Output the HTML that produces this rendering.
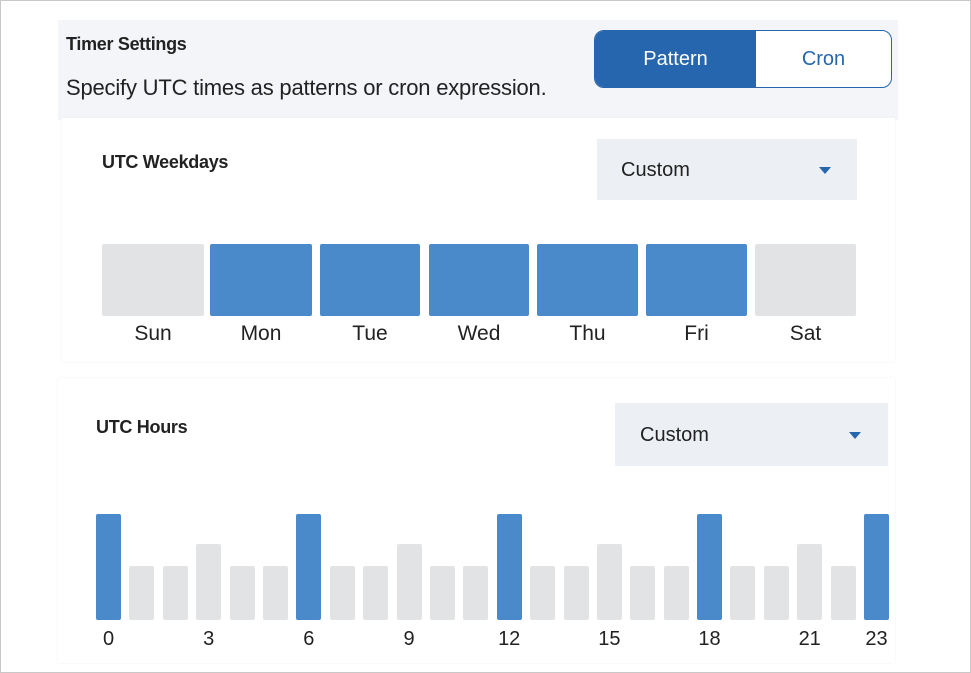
<!DOCTYPE html>
<html><head><style>
body{margin:0;width:971px;height:673px;background:#fff;font-family:"Liberation Sans",sans-serif;position:relative;overflow:hidden}
.frame{position:absolute;left:0;top:0;width:969px;height:671px;border:1px solid #c8c8c8}
.a{position:absolute}
.t{position:absolute;color:#222}
.bar{position:absolute;border-radius:2px;width:25px}
.wb{position:absolute;border-radius:2px;top:244px;height:72px}
.b{background:#4a8acb}.g{background:#e1e3e5}
.lbl{position:absolute;font-size:21px;color:#222;text-align:center}
.hl{position:absolute;font-size:20px;color:#222;text-align:center;width:51px;top:628px}
.T{top:514px;height:106px}.M{top:544px;height:76px}.S{top:566px;height:54px}
</style></head><body>
<div class="frame"></div>
<div class="a" style="left:58px;top:20px;width:840px;height:100px;background:#f3f5f9"></div>
<div class="t" style="left:66px;top:34px;font-size:18px;font-weight:bold;letter-spacing:-0.3px">Timer Settings</div>
<div class="t" style="left:66px;top:75px;font-size:22px;letter-spacing:-0.2px">Specify UTC times as patterns or cron expression.</div>
<div class="a" style="left:594px;top:30px;width:296px;height:56px;border:1px solid #2566ae;border-radius:10px;background:#fff;overflow:hidden">
 <div class="a" style="left:0;top:0;width:161px;height:56px;background:#2566ae;color:#fff;font-size:20px;line-height:56px;text-align:center">Pattern</div>
 <div class="a" style="left:161px;top:0;width:135px;height:56px;color:#2566ae;font-size:20px;line-height:56px;text-align:center">Cron</div>
</div>
<div class="a" style="left:62px;top:118px;width:833px;height:244px;background:#fff;box-shadow:0 0 2px #eee"></div>
<div class="t" style="left:102px;top:152px;font-size:18px;font-weight:bold;letter-spacing:-0.3px">UTC Weekdays</div>
<div class="a" style="left:597px;top:139px;width:260px;height:61px;background:#eceff4"></div>
<div class="t" style="left:621px;top:159px;font-size:20px">Custom</div>
<div class="a" style="left:819px;top:167px;width:0;height:0;border-left:6px solid transparent;border-right:6px solid transparent;border-top:7px solid #2566ae"></div>
<div class="wb g" style="left:102px;width:102px"></div>
<div class="wb b" style="left:210px;width:102px"></div>
<div class="wb b" style="left:320px;width:100px"></div>
<div class="wb b" style="left:429px;width:100px"></div>
<div class="wb b" style="left:537px;width:101px"></div>
<div class="wb b" style="left:646px;width:101px"></div>
<div class="wb g" style="left:755px;width:101px"></div>
<div class="lbl" style="left:102px;top:322px;width:102px">Sun</div>
<div class="lbl" style="left:210px;top:322px;width:102px">Mon</div>
<div class="lbl" style="left:320px;top:322px;width:100px">Tue</div>
<div class="lbl" style="left:429px;top:322px;width:100px">Wed</div>
<div class="lbl" style="left:537px;top:322px;width:101px">Thu</div>
<div class="lbl" style="left:646px;top:322px;width:101px">Fri</div>
<div class="lbl" style="left:755px;top:322px;width:101px">Sat</div>
<div class="a" style="left:58px;top:378px;width:837px;height:285px;background:#fff;box-shadow:0 0 2px #eee"></div>
<div class="t" style="left:96px;top:417px;font-size:18px;font-weight:bold;letter-spacing:-0.3px">UTC Hours</div>
<div class="a" style="left:615px;top:403px;width:273px;height:63px;background:#eceff4"></div>
<div class="t" style="left:640px;top:424px;font-size:20px">Custom</div>
<div class="a" style="left:849px;top:432px;width:0;height:0;border-left:6px solid transparent;border-right:6px solid transparent;border-top:7px solid #2566ae"></div>

<div class="bar b T" style="left:96px"></div>
<div class="bar g S" style="left:129.4px"></div>
<div class="bar g S" style="left:162.8px"></div>
<div class="bar g M" style="left:196.2px"></div>
<div class="bar g S" style="left:229.6px"></div>
<div class="bar g S" style="left:263px"></div>
<div class="bar b T" style="left:296.3px"></div>
<div class="bar g S" style="left:329.7px"></div>
<div class="bar g S" style="left:363.1px"></div>
<div class="bar g M" style="left:396.5px"></div>
<div class="bar g S" style="left:429.9px"></div>
<div class="bar g S" style="left:463.3px"></div>
<div class="bar b T" style="left:496.7px"></div>
<div class="bar g S" style="left:530.1px"></div>
<div class="bar g S" style="left:563.5px"></div>
<div class="bar g M" style="left:596.9px"></div>
<div class="bar g S" style="left:630.3px"></div>
<div class="bar g S" style="left:663.7px"></div>
<div class="bar b T" style="left:697px"></div>
<div class="bar g S" style="left:730.4px"></div>
<div class="bar g S" style="left:763.8px"></div>
<div class="bar g M" style="left:797.2px"></div>
<div class="bar g S" style="left:830.6px"></div>
<div class="bar b T" style="left:864px"></div>

<div class="hl" style="left:83px">0</div>
<div class="hl" style="left:183.2px">3</div>
<div class="hl" style="left:283.3px">6</div>
<div class="hl" style="left:383.5px">9</div>
<div class="hl" style="left:483.7px">12</div>
<div class="hl" style="left:583.9px">15</div>
<div class="hl" style="left:684px">18</div>
<div class="hl" style="left:784.2px">21</div>
<div class="hl" style="left:851px">23</div>
</body></html>
